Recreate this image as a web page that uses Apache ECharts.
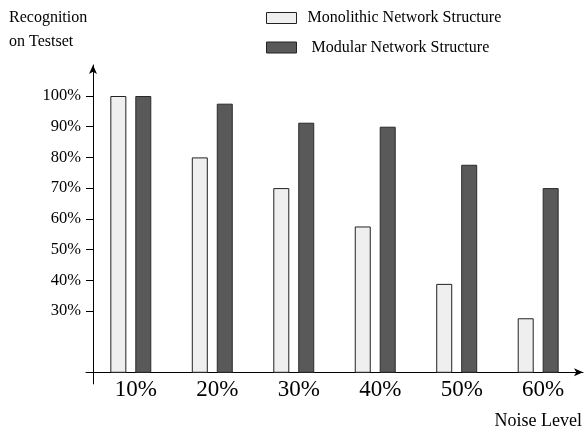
<!DOCTYPE html>
<html>
<head>
<meta charset="utf-8">
<script src="https://cdn.jsdelivr.net/npm/echarts@6/dist/echarts.min.js"></script>
<style>
html,body{margin:0;padding:0;background:#fff;}
#c{width:584px;height:427px;}
</style>
</head>
<body>
<div id="c"></div>
<script>
// Data
const noiseLevels = [10, 20, 30, 40, 50, 60];
const monolithic = [100, 80, 70, 57.5, 38.8, 27.6];
const modular = [100, 97.5, 91.3, 90, 77.6, 70];
const yTickValues = [30, 40, 50, 60, 70, 80, 90, 100];
const seriesNames = ['Monolithic Network Structure', 'Modular Network Structure'];
const yTitle = 'Recognition\non Testset';
const xTitle = 'Noise Level';

const FONT = '"Liberation Serif", "Times New Roman", serif';
const chart = echarts.init(document.getElementById('c'), null, {renderer: 'canvas'});

const toPairs = vals => noiseLevels.map((x, i) => [x, vals[i]]);

const option = {
  animation: false,
  backgroundColor: '#ffffff',
  title: {
    text: yTitle,
    left: 9, top: 6, padding: 0,
    textStyle: {fontFamily: FONT, fontSize: 16, fontWeight: 'normal', color: '#000', lineHeight: 24}
  },
  legend: [
    {
      data: [seriesNames[0]], left: 266, top: 10, padding: 0,
      itemWidth: 30, itemHeight: 11, icon: 'rect',
      itemStyle: {borderColor: '#222', borderWidth: 1},
      textStyle: {fontFamily: FONT, fontSize: 16, color: '#000', lineHeight: 16, padding: [0, 0, 0, 6]}
    },
    {
      data: [seriesNames[1]], left: 266, top: 39.5, padding: 0,
      itemWidth: 30, itemHeight: 11, icon: 'rect',
      itemStyle: {borderColor: '#222', borderWidth: 1},
      textStyle: {fontFamily: FONT, fontSize: 16, color: '#000', lineHeight: 16, padding: [0, 0, 0, 10]}
    }
  ],
  grid: {left: 86, right: 1, top: 65, bottom: 54.7, containLabel: false, outerBoundsMode: 'none'},
  xAxis: {
    type: 'value',
    min: 4.5, max: 65.5,
    name: xTitle,
    nameLocation: 'end',
    nameGap: -1,
    nameTextStyle: {fontFamily: FONT, fontSize: 18, color: '#000', align: 'right', verticalAlign: 'top', padding: [40, 0, 0, 0]},
    axisLine: {show: true, symbol: ['none', 'arrow'], symbolSize: [6, 9], lineStyle: {color: '#000', width: 1}},
    axisTick: {show: false},
    splitLine: {show: false},
    axisLabel: {
      customValues: noiseLevels,
      formatter: v => v + '%',
      fontFamily: FONT, fontSize: 23, color: '#000', margin: 6,
      padding: [0, 0, 0, 10]
    }
  },
  yAxis: {
    type: 'value',
    min: 10, max: 110.1,
    offset: -7,
    axisLine: {show: true, onZero: false, symbol: ['none', 'arrow'], symbolSize: [6, 9], lineStyle: {color: '#000', width: 1}},
    axisTick: {show: true, customValues: yTickValues, length: 7, lineStyle: {color: '#000'}},
    splitLine: {show: false},
    axisLabel: {
      customValues: yTickValues,
      formatter: v => v + '%',
      fontFamily: FONT, fontSize: 16.5, color: '#000', margin: 12
    }
  },
  series: [
    {
      name: seriesNames[0], type: 'bar', data: toPairs(monolithic),
      barWidth: 16, barGap: '56%',
      itemStyle: {color: '#efefef', borderColor: '#222', borderWidth: 1}
    },
    {
      name: seriesNames[1], type: 'bar', data: toPairs(modular),
      barWidth: 16,
      itemStyle: {color: '#595959', borderColor: '#2a2a2a', borderWidth: 1}
    }
  ]
};
chart.setOption(option);

// small downward extension of the y axis line below the x axis
const base = chart.convertToPixel({xAxisIndex: 0, yAxisIndex: 0}, [4.5, 10]);
chart.setOption({
  graphic: [{
    type: 'line', silent: true,
    shape: {x1: Math.round(base[0] + 7) + 0.5, y1: base[1], x2: Math.round(base[0] + 7) + 0.5, y2: base[1] + 12},
    style: {stroke: '#000', lineWidth: 1}
  }]
});
</script>
</body>
</html>
